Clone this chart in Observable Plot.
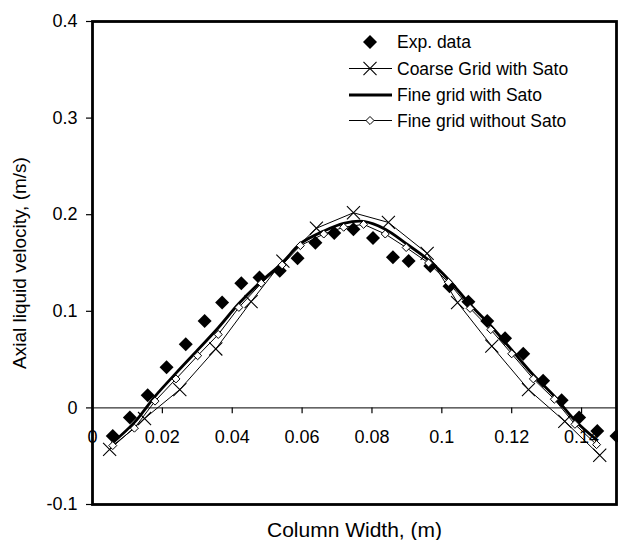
<!DOCTYPE html>
<html>
<head>
<meta charset="utf-8">
<script src="https://cdn.jsdelivr.net/npm/d3@7"></script>
<script src="https://cdn.jsdelivr.net/npm/@observablehq/plot@0.6"></script>
<style>
  html, body { margin: 0; padding: 0; background: white; }
  #chart { position: relative; width: 618px; height: 540px; font-family: "Liberation Sans", Arial, sans-serif; }
  #chart svg { position: absolute; left: 0; top: 0; }
</style>
</head>
<body>
<div id="chart"></div>
<script>
// ---------- data ----------
const seriesNames = ["Exp. data", "Coarse Grid with Sato", "Fine grid with Sato", "Fine grid without Sato"];

const expX = [0.0058, 0.0107, 0.0158, 0.0212, 0.0267, 0.0321, 0.0371, 0.0426, 0.0478, 0.0536, 0.0587, 0.0638, 0.0692, 0.0747,
              0.0803, 0.0860, 0.0905, 0.0967, 0.1022, 0.1076, 0.1130, 0.1181, 0.1233, 0.1290, 0.1343, 0.1393, 0.1445, 0.1500];
const expY = [-0.029, -0.010, 0.013, 0.042, 0.066, 0.090, 0.109, 0.129, 0.135, 0.142, 0.155, 0.171, 0.181, 0.185,
              0.176, 0.156, 0.152, 0.147, 0.126, 0.110, 0.090, 0.072, 0.056, 0.028, 0.008, -0.010, -0.024, -0.029];

const coarseX = [0.0049, 0.0149, 0.0250, 0.0353, 0.0454, 0.0545, 0.0641, 0.0747, 0.0847, 0.0958, 0.1045, 0.1143, 0.1248, 0.1352, 0.1452];
const coarseY = [-0.043, -0.011, 0.019, 0.061, 0.110, 0.152, 0.186, 0.202, 0.192, 0.160, 0.109, 0.064, 0.019, -0.014, -0.049];

const fineX = [0.0058, 0.0120, 0.0179, 0.0239, 0.0301, 0.0360, 0.0419, 0.0483, 0.0543, 0.0595, 0.0662, 0.0719,
               0.0776, 0.0838, 0.0898, 0.0962, 0.1019, 0.1081, 0.1140, 0.1200, 0.1262, 0.1322, 0.1381, 0.1443];
const fineSatoY = [-0.036, -0.015, 0.012, 0.036, 0.060, 0.083, 0.108, 0.131, 0.150, 0.170, 0.183, 0.191,
                   0.193, 0.185, 0.170, 0.153, 0.133, 0.107, 0.085, 0.060, 0.034, 0.012, -0.013, -0.033];
const fineNoSatoY = [-0.039, -0.021, 0.007, 0.030, 0.054, 0.076, 0.104, 0.129, 0.148, 0.168, 0.180, 0.187,
                     0.190, 0.180, 0.166, 0.150, 0.130, 0.103, 0.081, 0.056, 0.030, 0.009, -0.017, -0.038];

const xTicks = [0, 0.02, 0.04, 0.06, 0.08, 0.1, 0.12, 0.14];
const xTickLabels = ["0", "0.02", "0.04", "0.06", "0.08", "0.1", "0.12", "0.14"];
const yTicks = [-0.1, 0, 0.1, 0.2, 0.3, 0.4];
const yTickLabels = ["-0.1", "0", "0.1", "0.2", "0.3", "0.4"];

const xTitle = "Column Width, (m)";
const yTitle = "Axial liquid velocity, (m/s)";

// ---------- tables ----------
const exp = expX.map((x, i) => ({x, y: expY[i]}));
const coarse = coarseX.map((x, i) => ({x, y: coarseY[i]}));
const fineSato = fineX.map((x, i) => ({x, y: fineSatoY[i]}));
const fineNoSato = fineX.map((x, i) => ({x, y: fineNoSatoY[i]}));

const font = '"Liberation Sans", Arial, sans-serif';

const plot = Plot.plot({
  width: 618,
  height: 540,
  marginLeft: 92,
  marginTop: 21,
  marginRight: 2,
  marginBottom: 36,
  x: {domain: [0, 0.15], axis: null},
  y: {domain: [-0.1, 0.4], axis: null},
  style: {fontFamily: font, fontSize: "18px", background: "white", color: "black"},
  marks: [
    Plot.axisY(yTicks, {tickSize: 6, tickPadding: 9, tickFormat: d => yTickLabels[yTicks.indexOf(d)], label: null, fontSize: 18, strokeWidth: 1.2}),
    Plot.ruleY([0], {stroke: "black", strokeWidth: 1}),
    Plot.ruleX(xTicks.slice(1), {x: d => d, y1: 0, y2: -0.006, stroke: "black", strokeWidth: 1.2}),
    Plot.text(xTicks, {x: d => d, y: 0, dy: 29, text: d => xTickLabels[xTicks.indexOf(d)], fontSize: 18, fill: "black"}),
    Plot.text([xTitle], {frameAnchor: "bottom", dy: 26, textAnchor: "middle", lineAnchor: "middle", text: d => d, fontSize: 21, fill: "black"}),
    Plot.text([yTitle], {frameAnchor: "left", dx: -73, rotate: -90, textAnchor: "middle", lineAnchor: "middle", text: d => d, fontSize: 19, fill: "black"}),
    Plot.dot(exp, {x: "x", y: "y", symbol: "diamond2", r: 6.3, fill: "black", stroke: "none"}),
    Plot.line(fineSato, {x: "x", y: "y", stroke: "black", strokeWidth: 2.8, curve: "catmull-rom"}),
    Plot.line(coarse, {x: "x", y: "y", stroke: "black", strokeWidth: 1}),
    Plot.dot(coarse, {x: "x", y: "y", symbol: "times", r: 6, stroke: "black", strokeWidth: 1.1}),
    Plot.line(fineNoSato, {x: "x", y: "y", stroke: "black", strokeWidth: 1}),
    Plot.dot(fineNoSato, {x: "x", y: "y", symbol: "diamond2", r: 3.6, fill: "white", stroke: "black", strokeWidth: 1}),
    Plot.frame({stroke: "black", strokeWidth: 2.8})
  ]
});

const chart = document.getElementById("chart");
chart.appendChild(plot);

// ---------- legend (overlay) ----------
const leg = d3.select(chart).append("svg")
  .attr("width", 618).attr("height", 540)
  .style("pointer-events", "none");
const legRows = [42, 68.5, 95, 120.5];
const lx0 = 349, lx1 = 392, lmx = 370, ltx = 397;
seriesNames.forEach((name, i) => {
  const g = leg.append("g").attr("transform", `translate(0,${legRows[i]})`);
  if (i === 1 || i === 3) g.append("line").attr("x1", lx0).attr("x2", lx1).attr("stroke", "black").attr("stroke-width", 1);
  if (i === 2) g.append("line").attr("x1", lx0).attr("x2", lx1).attr("stroke", "black").attr("stroke-width", 2.8);
  if (i === 0) g.append("path").attr("transform", `translate(${lmx},0)`).attr("d", d3.symbol(d3.symbolDiamond2, 125)()).attr("fill", "black");
  if (i === 1) g.append("path").attr("transform", `translate(${lmx},0)`).attr("d", d3.symbol(d3.symbolTimes, 113)()).attr("fill", "none").attr("stroke", "black").attr("stroke-width", 1.1);
  if (i === 3) g.append("path").attr("transform", `translate(${lmx},0)`).attr("d", d3.symbol(d3.symbolDiamond2, 41)()).attr("fill", "white").attr("stroke", "black").attr("stroke-width", 1);
  g.append("text").attr("x", ltx).attr("y", 0).attr("dy", "0.35em")
    .attr("font-family", font).attr("font-size", 17.5).attr("fill", "black").text(name);
});
</script>
</body>
</html>
